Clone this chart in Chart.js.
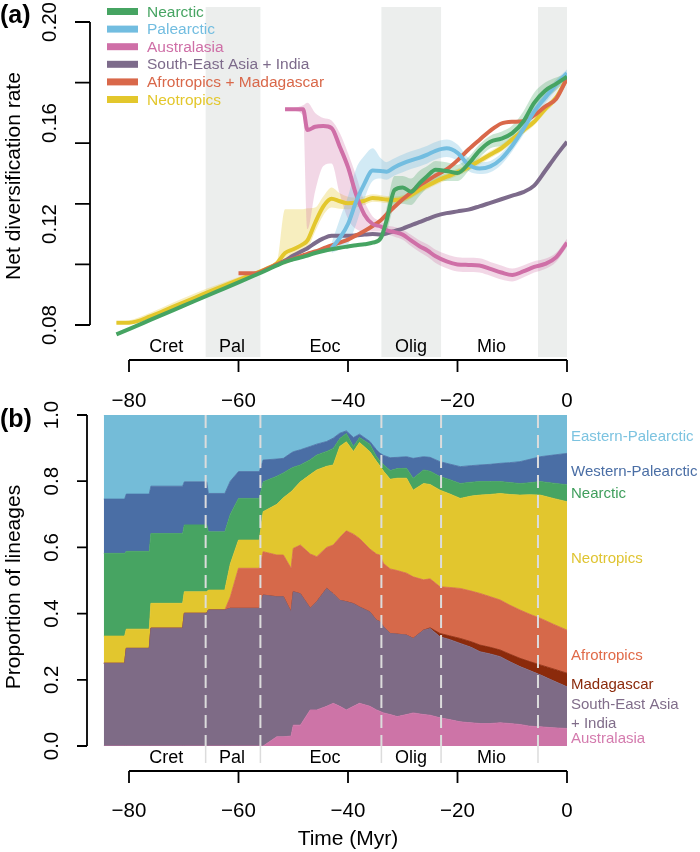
<!DOCTYPE html>
<html>
<head>
<meta charset="utf-8">
<script src="https://cdn.jsdelivr.net/npm/chart.js@4.4.1/dist/chart.umd.min.js"></script>
<style>
  html, body { margin: 0; padding: 0; background: #fff; }
  #wrap { position: relative; width: 700px; height: 852px; }
  canvas { position: absolute; left: 0; }
  #rates { top: 0; }
  #shares { top: 390px; }
</style>
</head>
<body>
<div id="wrap">
  <canvas id="rates" width="700" height="410"></canvas>
  <canvas id="shares" width="700" height="462"></canvas>
</div>
<script>
// ---- panel (a): net diversification rate through time (Myr before present) ----
const rateTime = [-82.3, -80, -76, -72, -68, -64, -60, -57, -55, -53, -51.5, -50, -48.2, -47.4, -46, -44.5, -43, -41.5, -40, -38.5,
  -37, -35.5, -34, -33, -31.5, -30, -28.5, -27, -25.5, -24, -22, -20, -18, -16, -14, -12, -10, -8, -6, -4, -2, 0];

const pad = (n, vals) => Array(n).fill(null).concat(vals);

const nearcticRate = [0.0763, 0.0784, 0.0821, 0.0858, 0.0895, 0.0932, 0.0969, 0.0997, 0.1016, 0.1036,
  0.1050, 0.1060, 0.1070, 0.1075, 0.1085, 0.1093, 0.1100, 0.1106, 0.1111, 0.1116, 0.1120, 0.1126,
  0.1145, 0.1210, 0.1335, 0.1345, 0.1328, 0.1360, 0.1390, 0.1415, 0.1410, 0.1402, 0.1438, 0.1490, 0.1526,
  0.1538, 0.1560, 0.1605, 0.1680, 0.1728, 0.1755, 0.1783];
const nearcticLow = pad(21, [0.1122, 0.1135, 0.1165, 0.1270, 0.1280, 0.1275, 0.1310, 0.1345, 0.1370, 0.1370, 0.1370,
  0.1410, 0.1462, 0.1500, 0.1510, 0.1530, 0.1565, 0.1640, 0.1695, 0.1730, 0.1770]);
const nearcticHigh = pad(21, [0.1130, 0.1155, 0.1260, 0.1390, 0.1390, 0.1380, 0.1410, 0.1430, 0.1450, 0.1445, 0.1435,
  0.1465, 0.1515, 0.1550, 0.1565, 0.1590, 0.1645, 0.1720, 0.1760, 0.1780, 0.1795]);

const palearcticRate = pad(16, [0.1104, 0.1145, 0.1200, 0.1290, 0.1360, 0.1412, 0.1410, 0.1407, 0.1425, 0.1440,
  0.1452, 0.1462, 0.1475, 0.1490, 0.1500, 0.1482, 0.1435, 0.1420, 0.1428, 0.1458, 0.1510, 0.1575, 0.1645, 0.1700, 0.1752, 0.1797]);
const palearcticLow = pad(16, [0.1085, 0.1100, 0.1120, 0.1200, 0.1300, 0.1370, 0.1380, 0.1375, 0.1392, 0.1405,
  0.1418, 0.1428, 0.1440, 0.1455, 0.1465, 0.1450, 0.1410, 0.1398, 0.1405, 0.1435, 0.1488, 0.1552, 0.1622, 0.1678, 0.1732, 0.1782]);
const palearcticHigh = pad(16, [0.1125, 0.1220, 0.1310, 0.1420, 0.1470, 0.1500, 0.1460, 0.1445, 0.1460, 0.1475,
  0.1488, 0.1498, 0.1510, 0.1525, 0.1535, 0.1515, 0.1462, 0.1445, 0.1450, 0.1480, 0.1532, 0.1598, 0.1668, 0.1722, 0.1772, 0.1812]);

const australasiaRate = pad(10, [0.1654, 0.1654, 0.1654, 0.1572, 0.1585, 0.1588, 0.1580, 0.1506, 0.1425, 0.1315,
  0.1237, 0.1200, 0.1190, 0.1176, 0.1168, 0.1158, 0.1135, 0.1113, 0.1095, 0.1072, 0.1052, 0.1040, 0.1038, 0.1036,
  0.1022, 0.1008, 0.0998, 0.1012, 0.1030, 0.1042, 0.1068, 0.1126]);
const australasiaLow = pad(10, [0.1648, 0.1648, 0.1630, 0.1180, 0.1330, 0.1430, 0.1440, 0.1320, 0.1220, 0.1180,
  0.1170, 0.1170, 0.1170, 0.1160, 0.1150, 0.1138, 0.1113, 0.1090, 0.1070, 0.1046, 0.1025, 0.1012, 0.1010, 0.1008,
  0.0995, 0.0980, 0.0972, 0.0988, 0.1008, 0.1022, 0.1050, 0.1110]);
const australasiaHigh = pad(10, [0.1660, 0.1660, 0.1670, 0.1680, 0.1640, 0.1620, 0.1610, 0.1560, 0.1480, 0.1390,
  0.1290, 0.1230, 0.1210, 0.1195, 0.1188, 0.1178, 0.1157, 0.1136, 0.1120, 0.1098, 0.1080, 0.1068, 0.1066, 0.1064,
  0.1050, 0.1036, 0.1024, 0.1036, 0.1052, 0.1062, 0.1086, 0.1142]);

const seAsiaRate = pad(9, [0.1038, 0.1055, 0.1075, 0.1095, 0.1104, 0.1125, 0.1143, 0.1153, 0.1153, 0.1153, 0.1155,
  0.1158, 0.1160, 0.1158, 0.1162, 0.1172, 0.1182, 0.1195, 0.1207, 0.1220, 0.1232, 0.1243, 0.1250, 0.1257, 0.1270,
  0.1284, 0.1298, 0.1312, 0.1326, 0.1352, 0.1410, 0.1470, 0.1526]);

const afrotropicsRate = pad(6, [0.1005, 0.1005, 0.1020, 0.1040, 0.1052, 0.1062, 0.1076, 0.1082, 0.1091, 0.1103,
  0.1115, 0.1126, 0.1138, 0.1155, 0.1172, 0.1192, 0.1215, 0.1237, 0.1268, 0.1298, 0.1325, 0.1352, 0.1372, 0.1392,
  0.1416, 0.1452, 0.1495, 0.1533, 0.1570, 0.1598, 0.1605, 0.1607, 0.1630, 0.1665, 0.1695, 0.1777]);

const neotropicsRate = [0.0809, 0.0809, 0.0835, 0.0872, 0.0908, 0.0944, 0.0979, 0.1004, 0.1022, 0.1045,
  0.1085, 0.1100, 0.1120, 0.1135, 0.1205, 0.1270, 0.1300, 0.1290, 0.1282, 0.1285, 0.1292, 0.1303,
  0.1300, 0.1297, 0.1295, 0.1300, 0.1315, 0.1335, 0.1352, 0.1368, 0.1387, 0.1405, 0.1425, 0.1450, 0.1475,
  0.1500, 0.1535, 0.1570, 0.1605, 0.1655, 0.1700, 0.1777];
const neotropicsLow = [0.0805, 0.0805, 0.0830, 0.0866, 0.0902, 0.0938, 0.0974, 0.1000, 0.1018, 0.1040,
  0.1040, 0.1060, 0.1085, 0.1100, 0.1170, 0.1235, 0.1265, 0.1260, 0.1258, 0.1265, 0.1275, 0.1288,
  0.1286, 0.1283, 0.1281, 0.1286, 0.1301, 0.1321, 0.1338, 0.1354, 0.1373, 0.1391, 0.1411, 0.1436, 0.1461,
  0.1486, 0.1521, 0.1556, 0.1591, 0.1641, 0.1686, 0.1765];
const neotropicsHigh = [0.0813, 0.0818, 0.0850, 0.0888, 0.0925, 0.0958, 0.0990, 0.1012, 0.1028, 0.1052,
  0.1258, 0.1258, 0.1258, 0.1262, 0.1265, 0.1310, 0.1345, 0.1322, 0.1308, 0.1305, 0.1310, 0.1318,
  0.1314, 0.1311, 0.1309, 0.1314, 0.1329, 0.1349, 0.1366, 0.1382, 0.1401, 0.1419, 0.1439, 0.1464, 0.1489,
  0.1514, 0.1549, 0.1584, 0.1619, 0.1669, 0.1714, 0.1789];

// ---- panel (b): proportion of lineages per region ----
const shareTime = [-84.6, -80.8, -80.5, -76.3, -76, -70.2, -69.9, -65.8, -65.5, -62.5, -61.5, -60, -56.2, -55.5, -53,
  -51.8, -50.4, -50, -48.7, -46.9, -45.7, -43.9, -42.7, -41.5, -40.3, -39, -37.9, -36, -34.8, -34.2, -33.5, -32.3,
  -31, -29.3, -28.1, -26.2, -25, -23.2, -21.5, -19.5, -17.5, -15.9, -14, -12.2, -10.5, -8.6, -6.8, -4.9, -2.5, 0];

const australasiaShare = [0, 0, 0, 0, 0, 0, 0, 0, 0, 0, 0, 0, 0, 0,
  0.028, 0.028, 0.030, 0.063, 0.063, 0.109, 0.109, 0.120, 0.129, 0.120, 0.109, 0.120, 0.129, 0.120, 0.109, 0.105,
  0.100, 0.095, 0.089, 0.095, 0.100, 0.095, 0.093, 0.085, 0.080, 0.073, 0.070, 0.068, 0.068, 0.070, 0.068, 0.065,
  0.060, 0.058, 0.055, 0.053];
const seAsiaShare = [0.250, 0.250, 0.295, 0.295, 0.356, 0.356, 0.401, 0.401, 0.411, 0.411,
  0.416, 0.416, 0.416, 0.456, 0.423, 0.423, 0.375, 0.403, 0.397, 0.307,
  0.327, 0.356, 0.331, 0.320, 0.327, 0.310, 0.291, 0.285, 0.271, 0.271,
  0.260, 0.245, 0.249, 0.240, 0.225, 0.255, 0.262, 0.245, 0.242, 0.237,
  0.228, 0.217, 0.210, 0.200, 0.187, 0.175, 0.168, 0.157, 0.142, 0.126];
const madagascarShare = [0, 0, 0, 0, 0, 0, 0, 0, 0, 0, 0, 0, 0, 0, 0, 0, 0, 0, 0, 0, 0, 0, 0, 0, 0, 0, 0, 0, 0, 0,
  0, 0, 0, 0, 0, 0, 0.002, 0.010, 0.011, 0.015, 0.017, 0.020, 0.020, 0.020, 0.023, 0.025, 0.027, 0.030, 0.036, 0.041];
const afrotropicsShare = [0, 0, 0, 0, 0, 0, 0, 0, 0, 0,
  0.034, 0.121, 0.121, 0.131, 0.126, 0.126, 0.132, 0.131, 0.147, 0.164,
  0.136, 0.124, 0.147, 0.190, 0.214, 0.210, 0.207, 0.190, 0.200, 0.201,
  0.191, 0.195, 0.192, 0.187, 0.186, 0.152, 0.148, 0.141, 0.146, 0.151,
  0.153, 0.156, 0.153, 0.151, 0.148, 0.146, 0.143, 0.141, 0.135, 0.130];
const neotropicsShare = [0.082, 0.082, 0.058, 0.058, 0.075, 0.075, 0.065, 0.065, 0.060, 0.060,
  0.100, 0.085, 0.085, 0.121, 0.153, 0.173, 0.231, 0.178, 0.191, 0.240,
  0.262, 0.245, 0.242, 0.275, 0.269, 0.250, 0.290, 0.294, 0.280, 0.270,
  0.279, 0.271, 0.279, 0.287, 0.262, 0.291, 0.285, 0.292, 0.283, 0.272,
  0.287, 0.297, 0.309, 0.322, 0.334, 0.347, 0.361, 0.372, 0.380, 0.388];
const nearcticShare = [0.250, 0.250, 0.235, 0.235, 0.211, 0.211, 0.202, 0.202, 0.176, 0.176,
  0.150, 0.126, 0.126, 0.090, 0.085, 0.075, 0.071, 0.067, 0.051, 0.045,
  0.045, 0.045, 0.050, 0.024, 0.025, 0.015, 0.015, 0.023, 0.015, 0.015,
  0.020, 0.026, 0.029, 0.030, 0.036, 0.041, 0.040, 0.041, 0.043, 0.045,
  0.042, 0.041, 0.039, 0.036, 0.036, 0.035, 0.036, 0.041, 0.046, 0.051];
const westPalearcticShare = [0.164, 0.164, 0.173, 0.173, 0.143, 0.143, 0.130, 0.130, 0.116, 0.116,
  0.100, 0.081, 0.081, 0.066, 0.052, 0.044, 0.046, 0.047, 0.046, 0.040,
  0.033, 0.030, 0.031, 0.016, 0.008, 0.027, 0.010, 0.008, 0.020, 0.023,
  0.028, 0.039, 0.034, 0.035, 0.060, 0.040, 0.042, 0.045, 0.047, 0.051,
  0.050, 0.050, 0.052, 0.055, 0.060, 0.066, 0.071, 0.075, 0.085, 0.095];
const eastPalearcticShare = [0.254, 0.254, 0.240, 0.240, 0.215, 0.215, 0.202, 0.202, 0.237, 0.237,
  0.200, 0.171, 0.171, 0.136, 0.133, 0.131, 0.115, 0.111, 0.105, 0.095,
  0.088, 0.080, 0.070, 0.055, 0.048, 0.068, 0.058, 0.080, 0.105, 0.115,
  0.122, 0.129, 0.128, 0.126, 0.131, 0.126, 0.128, 0.141, 0.148, 0.156,
  0.153, 0.151, 0.149, 0.146, 0.144, 0.141, 0.134, 0.126, 0.121, 0.116];

// ---- shared time axis ----
const timeTicks = [-80, -60, -40, -20, 0];
const epochNames = ['Cret', 'Pal', 'Eoc', 'Olig', 'Mio'];
const epochLabelAt = [-73.2, -61.2, -44.2, -28.5, -13.8];
const epochEdges = [-66, -56, -33.9, -23, -5.3];
const shadedEpochs = [[-66, -56], [-33.9, -23], [-5.3, 0]];
const rateTickMarks = [0.08, 0.104, 0.128, 0.152, 0.176, 0.2];
const rateTickLabels = [0.08, 0.12, 0.16, 0.2];
const shareTicks = [0, 0.2, 0.4, 0.6, 0.8, 1];

const FONT = '"Liberation Sans", Arial, Helvetica, sans-serif';

function text(ctx, s, x, y, size, color, align, bold) {
  ctx.font = (bold ? 'bold ' : '') + size + 'px ' + FONT;
  ctx.fillStyle = color || '#000';
  ctx.textAlign = align || 'left';
  ctx.textBaseline = 'alphabetic';
  ctx.fillText(s, x, y);
}

function vtext(ctx, s, cx, cy, size, color) {
  // rotated 90deg counter-clockwise, centred on (cx, cy)
  ctx.save();
  ctx.translate(cx + size * 0.36, cy);
  ctx.rotate(-Math.PI / 2);
  text(ctx, s, 0, 0, size, color, 'center');
  ctx.restore();
}

const fmtTime = t => (t < 0 ? '\u2212' + Math.abs(t) : String(t));

function timeAxis(chart, yLine, yBase) {
  const { ctx, scales: { x } } = chart;
  ctx.save();
  ctx.strokeStyle = '#000';
  ctx.lineWidth = 1.8;
  ctx.beginPath();
  ctx.moveTo(x.getPixelForValue(timeTicks[0]), yLine);
  ctx.lineTo(x.getPixelForValue(timeTicks[timeTicks.length - 1]), yLine);
  timeTicks.forEach(t => {
    const px = x.getPixelForValue(t);
    ctx.moveTo(px, yLine);
    ctx.lineTo(px, yLine + 12);
  });
  ctx.stroke();
  timeTicks.forEach(t => text(ctx, fmtTime(t), x.getPixelForValue(t), yBase, 20.5, '#000', 'center'));
  ctx.restore();
}

function epochLabels(chart, yBase) {
  const { ctx, scales: { x } } = chart;
  epochNames.forEach((n, i) => text(ctx, n, x.getPixelForValue(epochLabelAt[i]), yBase, 18, '#000', 'center'));
}

function valueAxis(chart, xLine, marks, labels, fmt, labelX, tickLen) {
  const { ctx, scales: { y } } = chart;
  ctx.save();
  ctx.strokeStyle = '#000';
  ctx.lineWidth = 1.8;
  ctx.beginPath();
  ctx.moveTo(xLine, y.getPixelForValue(marks[0]));
  ctx.lineTo(xLine, y.getPixelForValue(marks[marks.length - 1]));
  marks.forEach(v => {
    const py = y.getPixelForValue(v);
    ctx.moveTo(xLine - tickLen, py);
    ctx.lineTo(xLine, py);
  });
  ctx.stroke();
  labels.forEach(v => vtext(ctx, fmt(v), labelX, y.getPixelForValue(v), 20.5, '#000'));
  ctx.restore();
}

// ---------------- panel (a) ----------------
const rateSeries = [
  { label: 'Nearctic', value: nearcticRate, low: nearcticLow, high: nearcticHigh, color: '#46a462', band: 'rgba(70,164,98,0.28)', layer: 1 },
  { label: 'Palearctic', value: palearcticRate, low: palearcticLow, high: palearcticHigh, color: '#72bde0', band: 'rgba(114,189,224,0.32)', layer: 2 },
  { label: 'Australasia', value: australasiaRate, low: australasiaLow, high: australasiaHigh, color: '#cf6fa7', band: 'rgba(207,111,167,0.28)', layer: 3 },
  { label: 'South-East Asia + India', value: seAsiaRate, color: '#7d6b8b', layer: 5 },
  { label: 'Afrotropics + Madagascar', value: afrotropicsRate, color: '#d9684a', layer: 4 },
  { label: 'Neotropics', value: neotropicsRate, low: neotropicsLow, high: neotropicsHigh, color: '#e3c72c', band: 'rgba(227,199,44,0.3)', layer: 6 }
];

const ratePoints = ys => rateTime.map((t, i) => ({ x: t, y: ys[i] }));
const rateDatasets = [];
rateSeries.forEach(s => {
  if (!s.low) return;
  rateDatasets.push({ data: ratePoints(s.low), borderColor: 'transparent', borderWidth: 0, pointRadius: 0,
    fill: false, order: 20, cubicInterpolationMode: 'monotone' });
  rateDatasets.push({ data: ratePoints(s.high), borderColor: 'transparent', borderWidth: 0, pointRadius: 0,
    backgroundColor: s.band, fill: '-1', order: 20, cubicInterpolationMode: 'monotone' });
});
rateSeries.forEach(s => {
  rateDatasets.push({ label: s.label, data: ratePoints(s.value), borderColor: s.color, borderWidth: 4,
    pointRadius: 0, fill: false, order: s.layer, cubicInterpolationMode: 'monotone' });
});

const rateBackdrop = {
  id: 'rateBackdrop',
  beforeDatasetsDraw(chart) {
    const { ctx, chartArea: a, scales: { x } } = chart;
    ctx.save();
    ctx.fillStyle = '#eceeed';
    shadedEpochs.forEach(([from, to]) => {
      const x0 = x.getPixelForValue(from), x1 = x.getPixelForValue(to);
      ctx.fillRect(x0, a.top, x1 - x0, a.bottom - a.top);
    });
    ctx.restore();
  },
  afterDraw(chart) {
    const { ctx } = chart;
    ctx.save();
    epochLabels(chart, 352);
    timeAxis(chart, 360, 407);
    valueAxis(chart, 90, rateTickMarks, rateTickLabels, v => v.toFixed(2), 49, 15);
    vtext(ctx, 'Net diversification rate', 12, 176, 21, '#000');
    text(ctx, '(a)', 0, 23, 25, '#000', 'left', true);
    // legend
    rateSeries.forEach((s, i) => {
      const cy = 11.5 + i * 17.6;
      ctx.strokeStyle = s.color;
      ctx.lineWidth = 7;
      ctx.beginPath();
      ctx.moveTo(107, cy);
      ctx.lineTo(138, cy);
      ctx.stroke();
      text(ctx, s.label, 147, cy + 5, 15.5, s.color, 'left');
    });
    ctx.restore();
  }
};

new Chart(document.getElementById('rates'), {
  type: 'line',
  data: { datasets: rateDatasets },
  options: {
    responsive: false,
    animation: false,
    layout: { padding: { left: 101.625, right: 133, top: 7, bottom: 53 } },
    scales: {
      x: { type: 'linear', min: -85, max: 0, display: false },
      y: { type: 'linear', min: 0.2 - 0.12 * 335 / 303, max: 0.2 + 0.12 * 15 / 303, display: false }
    },
    plugins: { legend: { display: false }, tooltip: { enabled: false } }
  },
  plugins: [rateBackdrop]
});

// ---------------- panel (b) ----------------
const shareLayers = [
  { label: ['Australasia'], value: australasiaShare, color: '#cd74a7', ink: '#d47bae', at: 737 },
  { label: ['South-East Asia', '+ India'], value: seAsiaShare, color: '#7e6b86', ink: '#806d8a', at: 703 },
  { label: ['Madagascar'], value: madagascarShare, color: '#8b2a0b', ink: '#8b2a0b', at: 683 },
  { label: ['Afrotropics'], value: afrotropicsShare, color: '#d6694a', ink: '#e06a48', at: 654 },
  { label: ['Neotropics'], value: neotropicsShare, color: '#e2c62e', ink: '#dfc432', at: 557 },
  { label: ['Nearctic'], value: nearcticShare, color: '#47a462', ink: '#3f9e5c', at: 492 },
  { label: ['Western-Palearctic'], value: westPalearcticShare, color: '#4a6ea5', ink: '#4a6ea5', at: 470 },
  { label: ['Eastern-Palearctic'], value: eastPalearcticShare, color: '#74bcd8', ink: '#7cc3e0', at: 435 }
];
const SHARE_TOP = 390;

const shareDatasets = shareLayers.map((l, i) => ({
  label: l.label.join(' '),
  data: shareTime.map((t, j) => ({ x: t, y: l.value[j] })),
  backgroundColor: l.color,
  borderColor: l.color,
  borderWidth: 0.8,
  pointRadius: 0,
  tension: 0,
  fill: i === 0 ? 'origin' : '-1'
}));

const shareDecor = {
  id: 'shareDecor',
  afterDatasetsDraw(chart) {
    const { ctx, chartArea: a, scales: { x } } = chart;
    ctx.save();
    epochEdges.forEach(t => {
      const px = x.getPixelForValue(t);
      ctx.strokeStyle = '#dcdcdc';
      ctx.lineWidth = 2;
      ctx.setLineDash([13, 7]);
      ctx.beginPath();
      ctx.moveTo(px, a.top);
      ctx.lineTo(px, a.bottom);
      ctx.stroke();
      ctx.setLineDash([]);
      ctx.lineWidth = 1.5;
      ctx.beginPath();
      ctx.moveTo(px, a.bottom);
      ctx.lineTo(px, a.bottom + 17);
      ctx.stroke();
    });
    ctx.restore();
  },
  afterDraw(chart) {
    const { ctx } = chart;
    ctx.save();
    epochLabels(chart, 763 - SHARE_TOP);
    timeAxis(chart, 771 - SHARE_TOP, 817 - SHARE_TOP);
    valueAxis(chart, 87, shareTicks, shareTicks, v => v.toFixed(1), 51, 10);
    text(ctx, 'Time (Myr)', chart.scales.x.getPixelForValue(-40), 845 - SHARE_TOP, 21, '#000', 'center');
    vtext(ctx, 'Proportion of lineages', 12, 587 - SHARE_TOP, 21, '#000');
    text(ctx, '(b)', 0, 427 - SHARE_TOP, 25, '#000', 'left', true);
    shareLayers.forEach(l => {
      l.label.forEach((line, k) => text(ctx, line, 571, l.at + k * 19 + 5.5 - SHARE_TOP, 15, l.ink, 'left'));
    });
    ctx.restore();
  }
};

new Chart(document.getElementById('shares'), {
  type: 'line',
  data: { datasets: shareDatasets },
  options: {
    responsive: false,
    animation: false,
    layout: { padding: { left: 101.625, right: 133, top: 415 - SHARE_TOP, bottom: 462 - (746 - SHARE_TOP) } },
    scales: {
      x: { type: 'linear', min: -85, max: 0, display: false },
      y: { type: 'linear', min: 0, max: 1, stacked: true, display: false }
    },
    plugins: { legend: { display: false }, tooltip: { enabled: false } }
  },
  plugins: [shareDecor]
});
</script>
</body>
</html>
